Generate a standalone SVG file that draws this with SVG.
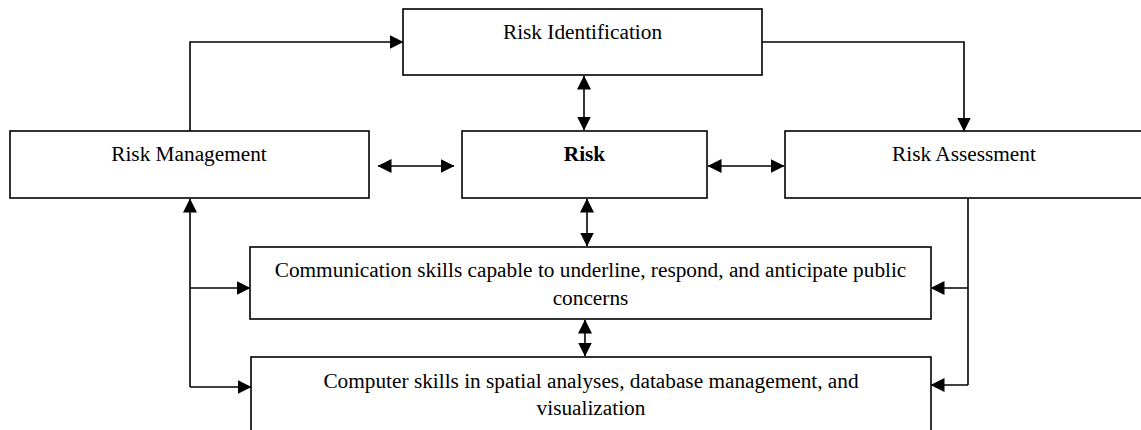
<svg xmlns="http://www.w3.org/2000/svg" width="1141" height="430" viewBox="0 0 1141 430">
<style>
.box{fill:#fff;stroke:#000;stroke-width:1.6}
.t{font-family:"Liberation Serif","Times New Roman",serif;font-size:21.3px;fill:#000;text-anchor:middle}
.b{font-weight:bold}
.c{fill:none;stroke:#000;stroke-width:1.6}
</style>
<defs>
<marker id="ah" markerUnits="userSpaceOnUse" markerWidth="14" markerHeight="14" refX="13.5" refY="7" orient="auto-start-reverse" viewBox="0 0 14 14">
<path d="M0,0 L14,7 L0,14 z" fill="#000"/>
</marker>
</defs>
<g id="risk-identification"><rect class="box" x="403" y="9" width="359" height="66"/><text class="t" x="582.5" y="39">Risk Identification</text></g>
<g id="risk-management"><rect class="box" x="10" y="131" width="359" height="67"/><text class="t" x="189" y="161">Risk Management</text></g>
<g id="risk"><rect class="box" x="462" y="131" width="245" height="67"/><text class="t b" x="584.5" y="161">Risk</text></g>
<g id="risk-assessment"><rect class="box" x="785" y="131" width="362" height="67"/><text class="t" x="964" y="161">Risk Assessment</text></g>
<g id="communication-skills"><rect class="box" x="250" y="247" width="681" height="72"/><text class="t" x="590.5" y="277">Communication skills capable to underline, respond, and anticipate public</text><text class="t" x="590.5" y="305">concerns</text></g>
<g id="computer-skills"><rect class="box" x="251" y="357" width="680" height="80"/><text class="t" x="591" y="388">Computer skills in spatial analyses, database management, and</text><text class="t" x="591" y="415">visualization</text></g>
<g id="connectors">
<path class="c" d="M190,131 V42 H403" marker-end="url(#ah)"/>
<path class="c" d="M762,42 H964 V131" marker-end="url(#ah)"/>
<path class="c" d="M584,76 V130" marker-start="url(#ah)" marker-end="url(#ah)"/>
<path class="c" d="M378,166 H454" marker-start="url(#ah)" marker-end="url(#ah)"/>
<path class="c" d="M708,166 H784" marker-start="url(#ah)" marker-end="url(#ah)"/>
<path class="c" d="M587,199 V246" marker-start="url(#ah)" marker-end="url(#ah)"/>
<path class="c" d="M585,320 V356" marker-start="url(#ah)" marker-end="url(#ah)"/>
<path class="c" d="M190,387 V199" marker-end="url(#ah)"/>
<path class="c" d="M190,288 H250" marker-end="url(#ah)"/>
<path class="c" d="M190,387 H251" marker-end="url(#ah)"/>
<path class="c" d="M968,198 V385"/>
<path class="c" d="M968,288 H931" marker-end="url(#ah)"/>
<path class="c" d="M968,385 H931" marker-end="url(#ah)"/>
</g>
</svg>
